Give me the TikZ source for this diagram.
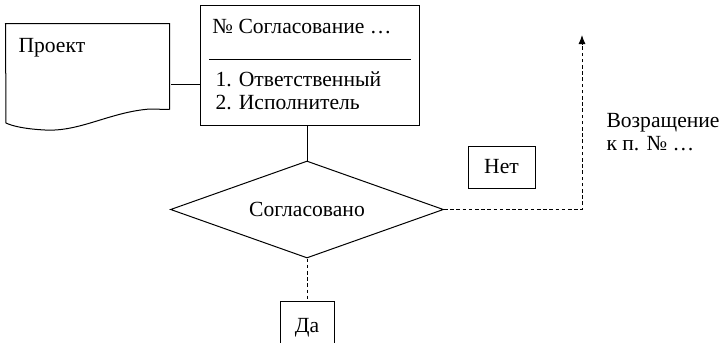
\documentclass[tikz,border=0pt]{standalone}
\usepackage{fontspec}
\setmainfont{Liberation Serif}
\usetikzlibrary{shapes.geometric}
\usetikzlibrary{arrows.meta}

\begin{document}
\begin{tikzpicture}[x=0.5pt, y=-0.5pt,
		line width=0.5pt,
		font=\fontsize{10.8}{11.5}\selectfont,
		txt/.style={inner sep=0pt, align=left},
		box/.style={draw, inner sep=0pt},
		flow/.style={dash pattern=on 1.8pt off 1.3pt}
	]
	\useasboundingbox (0,0) rectangle (725,343);

	\node[inner sep=0pt, minimum width=81.5pt, minimum height=42.5pt] (proj) at (87.5,66.5) {};
	\draw (proj.south east) -- (proj.north east) -- (proj.north west) -- (6,123)
		.. controls (12,126) and (25,129) .. (45,130)
		.. controls (80,132) and (110,112) .. (150,109) -- (proj.south east);
	\node[txt, anchor=base west] (projname) at (18,52) {Проект};

	\node[box, minimum width=109.5pt, minimum height=60pt] (card) at (309.5,65) {};
	\node[txt, anchor=base west] (cardtitle) at (212,33) {№ Согласование …};
	\draw (209,59) -- (411,59);
	\node[txt, anchor=north west] (cardlist) at (215,71) {1. Ответственный\\2. Исполнитель};

	\coordinate (pj) at (171,84);
	\draw (pj) -- (pj -| card.west);

	\node[draw, diamond, aspect=2.8, minimum width=136.5pt, minimum height=48.5pt, inner sep=0pt] (dec) at (307,209.5) {Согласовано};
	\draw (card.south -| dec.north) -- (dec.north);

	\node[box, minimum width=27pt, minimum height=27pt] (yes) at (307,328) {Да};
	\node[box, minimum width=33.5pt, minimum height=21pt] (no) at (501.5,167) {Нет};

	\coordinate (ret) at (582,35);
	\draw[flow, -{Latex[length=4.5pt, width=3.5pt]}] (dec.east) -| (ret);
	\draw[flow] (dec.south) -- (yes.north);

	\node[txt, anchor=north west] (retlabel) at (606,113) {Возращение\\к п. № …};
\end{tikzpicture}
\end{document}
